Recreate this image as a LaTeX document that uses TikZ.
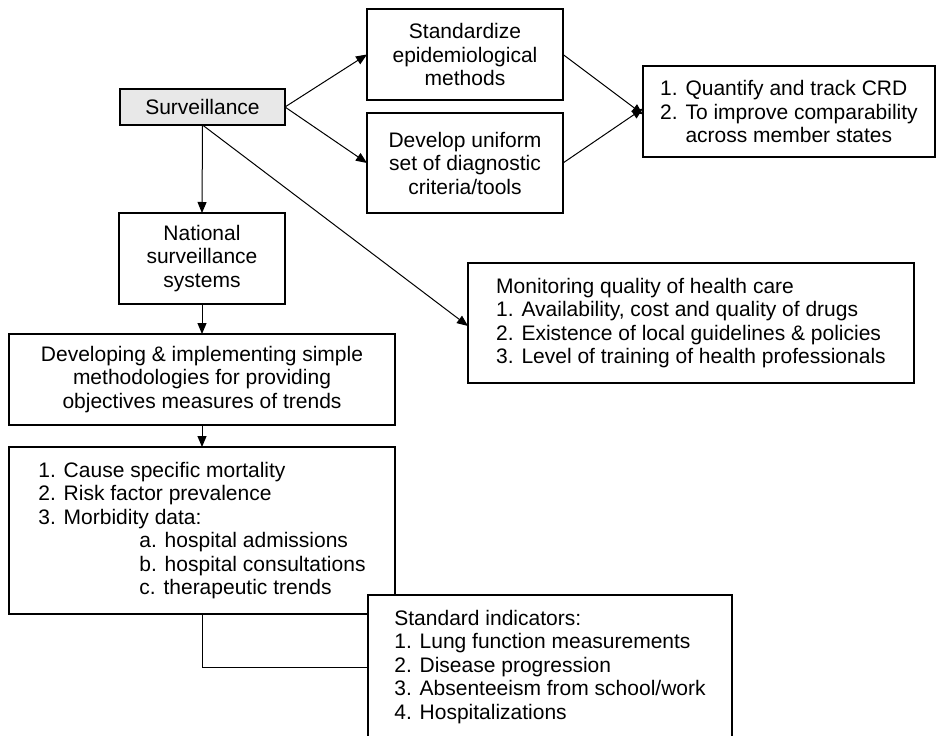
\documentclass[tikz,border=0pt]{standalone}
\usepackage{fontspec}
\setmainfont{Liberation Sans}
\usetikzlibrary{arrows.meta}
\definecolor{survgray}{HTML}{E8E8E8}
\begin{document}
\begin{tikzpicture}[x=1pt,y=-1pt,
  box/.style={draw=black, line width=1.2pt, fill=white, inner sep=0pt, outer sep=0pt,
    align=center, font=\fontsize{21}{23.5}\selectfont},
  lbox/.style={box, align=left},
  arr/.style={line width=1pt, -{Triangle[length=11pt,width=9pt]}},
  conn/.style={line width=1pt}]
\useasboundingbox (0,0) rectangle (937,736);
\clip (0,0) rectangle (937,736);
\fill[white] (0,0) rectangle (937,736);

\node[box, fill=survgray, minimum width=165pt, minimum height=36pt] (surv) at (202.5,107) {Surveillance};
\node[box, minimum width=196pt, minimum height=91pt] (std) at (465,54.5) {Standardize\\epidemiological\\methods};
\node[box, minimum width=196pt, minimum height=100pt] (dev) at (465,163) {Develop uniform\\set of diagnostic\\criteria/tools};
\node[lbox, minimum width=292pt, minimum height=91pt] (quant) at (789,111.5) {1. Quantify and track CRD\\2. To improve comparability\\\phantom{2. }across member states};
\node[box, minimum width=166pt, minimum height=91pt] (nat) at (202,258.5) {National\\surveillance\\systems};
\node[box, minimum width=386pt, minimum height=91pt] (devimp) at (202,379.5) {Developing \& implementing simple\\methodologies for providing\\objectives measures of trends};
\node[lbox, minimum width=386pt, minimum height=167pt] (mort) at (202,530.5) {1. Cause specific mortality\\2. Risk factor prevalence\\3. Morbidity data:\\\hspace*{101pt}a. hospital admissions\\\hspace*{101pt}b. hospital consultations\\\hspace*{101pt}c. therapeutic trends};
\node[lbox, minimum width=446pt, minimum height=120pt] (mon) at (691,323) {Monitoring quality of health care\\1. Availability, cost and quality of drugs\\2. Existence of local guidelines \& policies\\3. Level of training of health professionals};

\draw[arr] (surv.east) -- (std.west);
\draw[arr] (surv.east) -- (dev.west);
\draw[arr] (std.east) -- ([yshift=-3pt]quant.west);
\draw[arr] (dev.east) -- ([yshift=3pt]quant.west);
\draw[arr] (surv.south) -- (nat.north);
\draw[arr] (surv.south) -- ([yshift=-3pt]mon.west);
\draw[arr] (nat.south) -- (devimp.north);
\draw[arr] (devimp.south) -- (mort.north);
\draw[conn] (mort.south) |- (550,667) coordinate (sjoin);

\node[lbox, minimum width=364pt, minimum height=144pt] (stdind) at (550,667) {Standard indicators:\\1. Lung function measurements\\2. Disease progression\\3. Absenteeism from school/work\\4. Hospitalizations};
\end{tikzpicture}
\end{document}
